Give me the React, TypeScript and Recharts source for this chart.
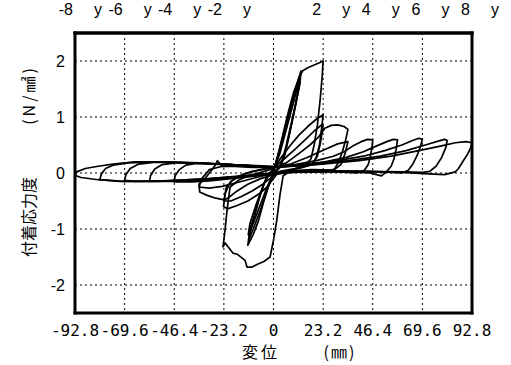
import React from 'react';
import { LineChart, Line, XAxis, YAxis, CartesianGrid, ReferenceLine } from 'recharts';

/* ---------- axis ticks ---------- */
const xTicks = [-92.8, -69.6, -46.4, -23.2, 0, 23.2, 46.4, 69.6, 92.8];
const xTickLabels = ['-92.8', '-69.6', '-46.4', '-23.2', '0', '23.2', '46.4', '69.6', '92.8'];
const topTickLabels = ['-8', '-6', '-4', '-2', '', '2', '4', '6', '8'];
const topSuffix = 'y';
const yTicks = [-2, -1, 0, 1, 2];
const xDomain = [-92.8, 92.8];
const yDomain = [-2.5, 2.5];

/* ---------- hysteresis cycles: [displacement mm, bond stress N/mm2] ---------- */
const cycle1a: number[][] = [
  [0, 0], [2, 0.3], [4.5, 0.7], [7, 1.1], [9.5, 1.45], [12.4, 1.75], [12, 1.55], [10, 1.15], [7.5, 0.7],
  [5, 0.3], [3, 0.1], [0, 0], [-2, -0.2], [-4.5, -0.5], [-7, -0.85], [-9.5, -1.1], [-12, -1.29],
  [-11.5, -1.15], [-9.5, -0.85], [-7, -0.5], [-4.5, -0.2], [-2, 0], [0, 0.05],
];
const cycle1b: number[][] = [
  [0, 0.05], [3, 0.4], [6, 0.85], [9, 1.3], [12.8, 1.82], [12.4, 1.6], [10.5, 1.25], [8, 0.8], [5.5, 0.35],
  [3, 0.1], [0, -0.02], [-3, -0.3], [-6, -0.65], [-9, -0.95], [-11.6, -1.2], [-11, -1.0], [-8.5, -0.7],
  [-6, -0.35], [-3, -0.05], [0, 0.05],
];
const cycle1c: number[][] = [
  [0, 0.05], [3, 0.35], [6.5, 0.85], [10, 1.35], [12.2, 1.68], [11.5, 1.45], [9, 1.0], [6, 0.5], [3.5, 0.15],
  [0, 0], [-3, -0.25], [-6.5, -0.6], [-10, -0.95], [-11.8, -1.1], [-11, -0.9], [-8, -0.55], [-4, -0.15], [0, 0.08],
];
const cycle2a: number[][] = [
  [0, 0.05], [3, 0.45], [6, 0.9], [9, 1.3], [11.5, 1.65], [13.5, 1.82], [16, 1.88], [19, 1.93], [21.5, 1.97],
  [23.2, 2.0], [22.8, 1.75], [21.8, 1.3], [20.5, 0.85], [19, 0.5], [17.5, 0.25], [14, 0.12], [9, 0.06],
  [4.5, -0.05], [3, -0.4], [1.5, -0.85], [0, -1.2], [-1.6, -1.5], [-4.5, -1.58], [-7.5, -1.63], [-10, -1.68],
  [-12.4, -1.68], [-13.3, -1.56], [-17, -1.45], [-19, -1.43], [-22.6, -1.25], [-23.6, -1.32], [-22.6, -1.0],
  [-21.7, -0.66], [-20.3, -0.25], [-16, -0.12], [-11, -0.04], [-5, 0.02], [0, 0.08],
];
const cycle2b: number[][] = [
  [0, 0.08], [4, 0.3], [8, 0.5], [12, 0.68], [16, 0.83], [20, 0.96], [23.2, 1.04], [22.5, 0.8], [21.5, 0.5],
  [20, 0.28], [18, 0.15], [12, 0.08], [6, 0.04], [2, 0], [0, -0.1], [-3, -0.25], [-7, -0.38], [-12, -0.5],
  [-17, -0.58], [-21.5, -0.64], [-23.4, -0.6], [-22.5, -0.35], [-20, -0.15], [-14, -0.02], [-7, 0.05], [0, 0.1],
];
const cycle2c: number[][] = [
  [0, 0.1], [5, 0.25], [10, 0.42], [15, 0.6], [19, 0.75], [22.5, 0.86], [23.2, 0.85], [22, 0.55], [20.5, 0.3],
  [18, 0.15], [10, 0.08], [3, 0.03], [0, -0.05], [-5, -0.2], [-10, -0.32], [-15, -0.42], [-20, -0.5],
  [-23.2, -0.5], [-22, -0.25], [-18, -0.08], [-10, 0.03], [0, 0.1],
];
const cycle3: number[][] = [
  [0, 0.1], [6, 0.18], [12, 0.35], [17, 0.5], [21, 0.64], [24, 0.8], [27, 0.85], [30, 0.86], [33, 0.83],
  [34.8, 0.78], [33.8, 0.6], [32.2, 0.38], [30.5, 0.2], [28.5, 0.07], [25, 0.03], [15, 0.02], [5, 0],
  [0, -0.03], [-6, -0.1], [-12, -0.2], [-17, -0.32], [-21, -0.44], [-23, -0.48], [-27, -0.45], [-31, -0.4],
  [-34.5, -0.34], [-34.8, -0.2], [-32, -0.1], [-29, 0.05], [-27, 0.15], [-26.2, 0.22], [-24, 0.12],
  [-18, 0.12], [-10, 0.1], [0, 0.1],
];
const cycle3b: number[][] = [
  [0, 0.1], [8, 0.16], [16, 0.28], [24, 0.42], [30, 0.52], [34.8, 0.56], [33.5, 0.35], [31.5, 0.15],
  [28, 0.05], [18, 0.06], [8, 0.04], [0, 0], [-8, -0.08], [-16, -0.16], [-24, -0.24], [-30, -0.27],
  [-34.8, -0.25], [-33.5, -0.1], [-30, 0.06], [-24, 0.12], [-14, 0.14], [0, 0.12],
];
const cycle4: number[][] = [
  [0, 0.1], [10, 0.15], [20, 0.22], [28, 0.3], [33, 0.38], [37, 0.48], [41, 0.56], [44, 0.6], [46.4, 0.59],
  [46, 0.45], [45.3, 0.3], [44.3, 0.15], [42.5, 0.05], [39, 0], [30, 0.02], [20, 0.03], [10, 0.02], [0, -0.02],
  [-10, -0.06], [-20, -0.1], [-30, -0.14], [-38, -0.16], [-46.4, -0.16], [-46, -0.05], [-44, 0.06],
  [-41, 0.14], [-36, 0.17], [-28, 0.16], [-20, 0.15], [-10, 0.12], [0, 0.1],
];
const cycle5: number[][] = [
  [0, 0.1], [12, 0.14], [24, 0.2], [34, 0.28], [42, 0.38], [48, 0.48], [53, 0.56], [56, 0.6], [58, 0.59],
  [57.3, 0.42], [56.3, 0.25], [55, 0.12], [53, 0.03], [50.5, -0.05], [45, 0], [35, 0.02], [20, 0.03],
  [8, 0.02], [0, 0], [-10, -0.05], [-22, -0.1], [-35, -0.13], [-48, -0.15], [-58, -0.15], [-57.5, -0.05],
  [-55.5, 0.07], [-52, 0.15], [-46, 0.18], [-36, 0.18], [-24, 0.16], [-12, 0.13], [0, 0.1],
];
const cycle6: number[][] = [
  [0, 0.1], [15, 0.15], [30, 0.22], [42, 0.3], [52, 0.4], [60, 0.5], [65, 0.58], [68, 0.62], [69.6, 0.6],
  [68.5, 0.45], [67, 0.3], [65, 0.15], [63, 0.05], [60, 0], [50, 0.02], [35, 0.03], [20, 0.03], [5, 0.02],
  [0, 0], [-12, -0.05], [-25, -0.1], [-40, -0.13], [-55, -0.15], [-65, -0.15], [-69.6, -0.13], [-69, -0.03],
  [-67, 0.08], [-63, 0.16], [-56, 0.19], [-45, 0.19], [-30, 0.17], [-15, 0.14], [0, 0.1],
];
const cycle7: number[][] = [
  [0, 0.1], [18, 0.15], [35, 0.22], [50, 0.3], [62, 0.4], [71, 0.5], [77, 0.57], [80, 0.6], [81.2, 0.58],
  [80.5, 0.45], [78.5, 0.27], [76, 0.12], [73, 0.03], [70, 0.01], [60, 0.02], [45, 0.03], [25, 0.04],
  [8, 0.02], [0, 0], [-15, -0.06], [-30, -0.1], [-45, -0.13], [-60, -0.15], [-72, -0.15], [-81.2, -0.12],
  [-80.5, -0.02], [-78.5, 0.08], [-75, 0.14], [-68, 0.18], [-55, 0.2], [-40, 0.18], [-20, 0.15], [0, 0.1],
];
const cycle8: number[][] = [
  [0, 0.1], [20, 0.15], [40, 0.22], [55, 0.3], [68, 0.4], [78, 0.48], [85, 0.54], [90, 0.56], [92.8, 0.54],
  [92.2, 0.45], [90.5, 0.32], [88.6, 0.21], [86.5, 0.08], [85, 0.02], [80, -0.03], [75, -0.02], [60, 0.01],
  [40, 0.03], [20, 0.03], [5, 0.02], [0, 0], [-15, -0.05], [-30, -0.1], [-50, -0.14], [-70, -0.15],
  [-82, -0.12], [-90, -0.08], [-92.8, -0.04], [-92, 0.02], [-88, 0.08], [-82, 0.12], [-75, 0.16],
  [-65, 0.2], [-50, 0.2], [-35, 0.18], [-20, 0.15], [-5, 0.12], [0, 0.1],
];

const cycles = [
  cycle1a, cycle1b, cycle1c, cycle2a, cycle2b, cycle2c, cycle3, cycle3b,
  cycle4, cycle5, cycle6, cycle7, cycle8,
];

const toRows = (pts: number[][]) => pts.map(([x, y]) => ({ x, y }));

const monoFont = '"DejaVu Sans Mono", monospace';
const sansFont = '"Liberation Sans", Arial, sans-serif';
const cjkFont = '"Noto Sans CJK JP", sans-serif';

const frame = { stroke: '#000', strokeWidth: 3, strokeLinecap: 'square' as const };

const TopTick = (props: any) => {
  const { x, y, index } = props;
  const label = topTickLabels[index];
  if (!label) return <g />;
  return (
    <g>
      <text x={x - 2} y={y} textAnchor="end" fontFamily={sansFont} fontSize={16} fill="#000">{label}</text>
      <text x={x + 23} y={y} textAnchor="middle" fontFamily={sansFont} fontSize={16} fill="#000">{topSuffix}</text>
    </g>
  );
};

export default function App() {
  return (
    <div style={{ position: 'absolute', left: 0, top: 0, width: 511, height: 365, background: '#fff' }}>
      <LineChart width={511} height={365} margin={{ top: 8, right: 39, bottom: 22, left: 35 }}>
        <CartesianGrid stroke="#000" strokeDasharray="2 3" strokeWidth={1} />
        <XAxis
          dataKey="x"
          type="number"
          domain={xDomain}
          ticks={xTicks}
          allowDataOverflow
          height={30}
          axisLine={frame}
          tickLine={false}
          tickSize={0}
          tickMargin={12}
          tick={{ fill: '#000', fontSize: 16, fontFamily: monoFont }}
          tickFormatter={(v: number) => xTickLabels[xTicks.indexOf(v)] ?? String(v)}
          interval={0}
        />
        <XAxis
          xAxisId="top"
          dataKey="x"
          orientation="top"
          type="number"
          domain={xDomain}
          ticks={xTicks}
          allowDataOverflow
          height={25}
          axisLine={frame}
          tickLine={false}
          tickSize={0}
          tickMargin={18}
          tick={<TopTick />}
          interval={0}
        />
        <YAxis
          type="number"
          domain={yDomain}
          ticks={yTicks}
          allowDataOverflow
          width={40}
          axisLine={frame}
          tickLine={false}
          tickSize={0}
          tickMargin={10}
          tick={{ fill: '#000', fontSize: 16, fontFamily: sansFont }}
          interval={0}
        />
        <YAxis
          yAxisId="right"
          orientation="right"
          type="number"
          domain={yDomain}
          allowDataOverflow
          width={0}
          axisLine={frame}
          tick={false}
          tickLine={false}
        />
        {cycles.map((c, i) => (
          <Line
            key={i}
            data={toRows(c)}
            dataKey="y"
            type="linear"
            stroke="#000"
            strokeWidth={1.7}
            dot={false}
            activeDot={false}
            isAnimationActive={false}
            strokeLinejoin="round"
          />
        ))}
        {/* binds the top and right frame axes so they are drawn */}
        <Line
          xAxisId="top"
          yAxisId="right"
          data={toRows(cycle8)}
          dataKey="y"
          stroke="none"
          dot={false}
          activeDot={false}
          isAnimationActive={false}
        />
        {/* thick frame on top and right edges */}
        <ReferenceLine y={yDomain[1]} stroke="#000" strokeWidth={3} strokeLinecap="square" ifOverflow="visible" />
        <ReferenceLine x={xDomain[1]} stroke="#000" strokeWidth={3} strokeLinecap="square" ifOverflow="visible" />
      </LineChart>
      <div
        style={{
          position: 'absolute', left: 28, top: 217, transform: 'translate(-50%, -50%) rotate(-90deg)',
          fontFamily: cjkFont, fontSize: 16, whiteSpace: 'nowrap', color: '#000', lineHeight: 1,
        }}
      >
        付着応力度
      </div>
      <div
        style={{
          position: 'absolute', left: 28, top: 95, transform: 'translate(-50%, -50%) rotate(-90deg)',
          fontFamily: cjkFont, fontSize: 16, letterSpacing: 3, whiteSpace: 'nowrap', color: '#000', lineHeight: 1,
        }}
      >
        (N/㎟)
      </div>
      <div
        style={{
          position: 'absolute', left: 261, top: 351, transform: 'translate(-50%, -50%)',
          fontFamily: cjkFont, fontSize: 16, letterSpacing: 3, whiteSpace: 'nowrap', color: '#000', lineHeight: 1,
        }}
      >
        変位
      </div>
      <div
        style={{
          position: 'absolute', left: 340, top: 351, transform: 'translate(-50%, -50%)',
          fontFamily: cjkFont, fontSize: 16, letterSpacing: 2, whiteSpace: 'nowrap', color: '#000', lineHeight: 1,
        }}
      >
        (㎜)
      </div>
    </div>
  );
}
